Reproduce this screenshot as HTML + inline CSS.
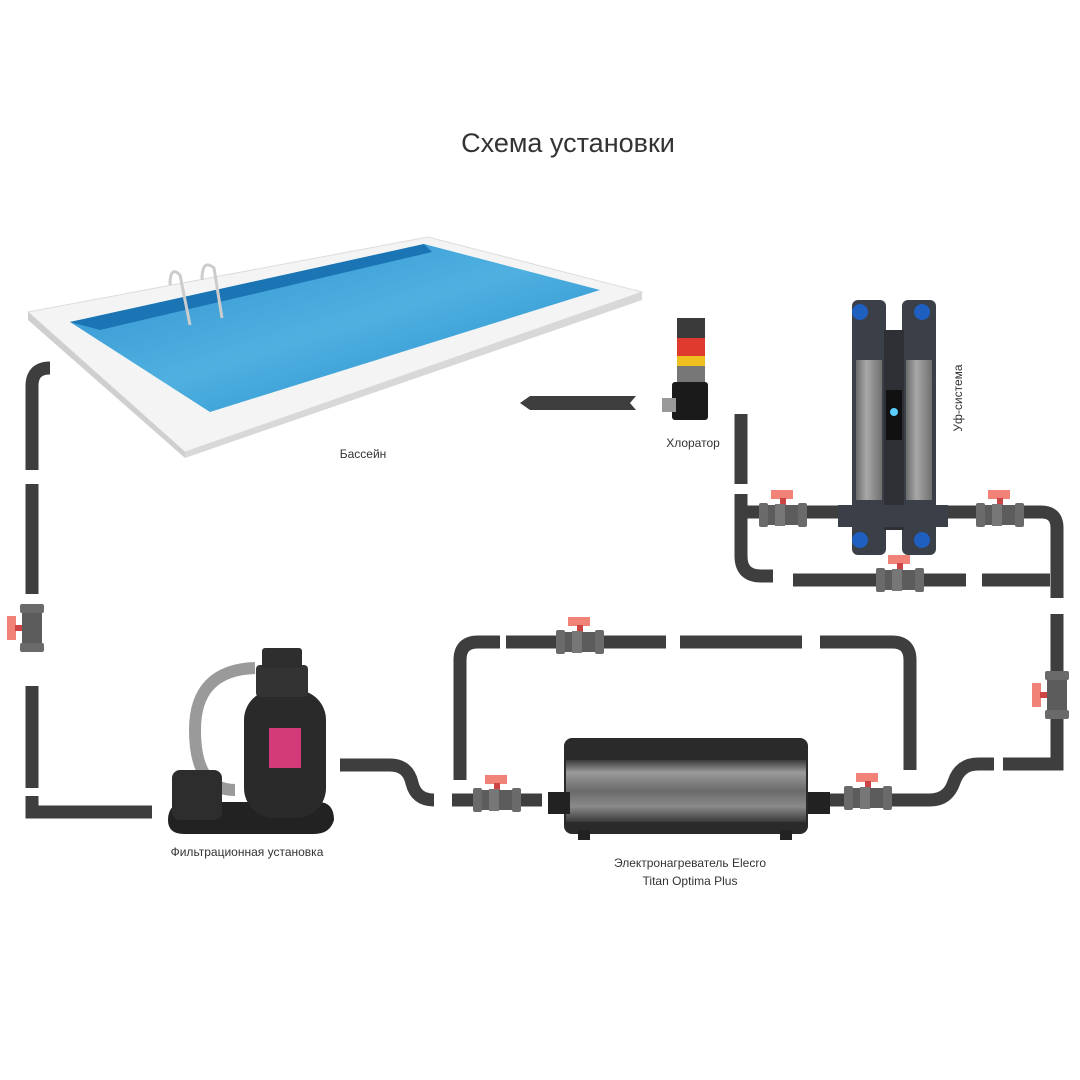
<!DOCTYPE html>
<html><head><meta charset="utf-8"><style>
html,body{margin:0;padding:0;background:#fff}
svg{display:block}
text{font-family:"Liberation Sans",sans-serif;fill:#333}
</style></head><body>
<svg width="1080" height="1080" viewBox="0 0 1080 1080" xmlns="http://www.w3.org/2000/svg">
<defs>
<linearGradient id="water" x1="0" y1="0" x2="1" y2="1">
<stop offset="0" stop-color="#2f8fcf"/><stop offset="0.5" stop-color="#4fb0e0"/><stop offset="1" stop-color="#1f88c8"/>
</linearGradient>
<linearGradient id="tube" x1="0" y1="0" x2="1" y2="0">
<stop offset="0" stop-color="#6a6a6a"/><stop offset="0.4" stop-color="#a8a8a8"/><stop offset="1" stop-color="#707070"/>
</linearGradient>
<linearGradient id="heat" x1="0" y1="0" x2="0" y2="1">
<stop offset="0" stop-color="#3a3a3a"/><stop offset="0.2" stop-color="#9a9a9a"/><stop offset="0.5" stop-color="#6a6a6a"/><stop offset="0.75" stop-color="#8a8a8a"/><stop offset="1" stop-color="#3a3a3a"/>
</linearGradient>
<g id="vh">
<rect x="-12" y="-25" width="22" height="9" fill="#f08278"/>
<rect x="-3" y="-17" width="6" height="7" fill="#c44"/>
<rect x="-22" y="-10" width="44" height="20" fill="#5c5c5c"/>
<rect x="-24" y="-12" width="9" height="24" rx="2" fill="#6a6a6a"/>
<rect x="15" y="-12" width="9" height="24" rx="2" fill="#6a6a6a"/>
<rect x="-8" y="-11" width="10" height="22" fill="#777"/>
</g>
<g id="vv">
<rect x="-25" y="-12" width="9" height="24" fill="#f08278"/>
<rect x="-17" y="-3" width="7" height="6" fill="#c44"/>
<rect x="-10" y="-22" width="20" height="44" fill="#5c5c5c"/>
<rect x="-12" y="-24" width="24" height="9" rx="2" fill="#6a6a6a"/>
<rect x="-12" y="15" width="24" height="9" rx="2" fill="#6a6a6a"/>
</g>
</defs>

<text x="568" y="152" font-size="27" text-anchor="middle" fill="#222">Схема установки</text>

<!-- pool -->
<polygon points="28,312 428,237 642,292 185,452" fill="#f4f4f4" stroke="#ddd"/>
<polygon points="28,312 185,452 185,458 28,320" fill="#cfcfcf"/>
<polygon points="185,452 642,292 642,300 185,458" fill="#d8d8d8"/>
<polygon points="70,322 424,244 600,290 210,412" fill="url(#water)"/>
<polygon points="70,322 424,244 432,252 100,330" fill="#1b75b5"/>
<path d="M170,285 q0,-20 10,-10 l10,50 M202,280 q0,-22 12,-12 l8,50" stroke="#ccc" stroke-width="3" fill="none"/>
<text x="363" y="458" font-size="12" text-anchor="middle">Бассейн</text>

<!-- pipes -->
<g stroke="#3e3e3e" stroke-width="13" fill="none">
<path d="M50,368 q-18,0 -18,18 v84"/>
<path d="M32,484 v110"/>
<path d="M32,686 v102"/>
<path d="M32,796 v16 h120"/>
<path d="M340,765 h50 q18,0 22,18 q4,17 22,17"/>
<path d="M452,800 h90"/>
<path d="M460,780 v-120 q0,-18 18,-18 h22"/>
<path d="M506,642 h160"/>
<path d="M680,642 h122"/>
<path d="M820,642 h72 q18,0 18,18 v110"/>
<path d="M830,800 h100 q18,0 24,-18 q6,-18 24,-18 h16"/>
<path d="M1003,764 h54 v-150"/>
<path d="M1057,598 v-70 q0,-16 -16,-16 h-300"/>
<path d="M741,494 v62 q0,20 20,20 h12"/>
<path d="M793,580 h173"/>
<path d="M982,580 h68"/>
<path d="M741,484 v-70"/>
</g>
<polygon points="520,403 530,396 636,396 630,403 636,410 530,410" fill="#3e3e3e"/>

<!-- valves -->
<use href="#vv" x="32" y="628"/>
<use href="#vh" x="580" y="642"/>
<use href="#vh" x="497" y="800"/>
<use href="#vh" x="868" y="798"/>
<use href="#vv" x="1057" y="695"/>
<use href="#vh" x="783" y="515"/>
<use href="#vh" x="1000" y="515"/>
<use href="#vh" x="900" y="580"/>

<!-- filter -->
<path d="M235,790 q-40,0 -40,-60 q0,-60 60,-62" stroke="#9a9a9a" stroke-width="12" fill="none"/>
<path d="M168,820 q0,-18 20,-18 h130 q16,0 16,18 q-4,14 -20,14 h-130 q-16,0 -16,-14z" fill="#222"/>
<rect x="172" y="770" width="50" height="50" rx="8" fill="#2d2d2d"/>
<rect x="244" y="690" width="82" height="128" rx="30" fill="#2a2a2a"/>
<rect x="269" y="728" width="32" height="40" fill="#d23a77"/>
<rect x="256" y="665" width="52" height="32" rx="4" fill="#333"/>
<rect x="262" y="648" width="40" height="20" rx="3" fill="#2e2e2e"/>
<text x="247" y="856" font-size="12" text-anchor="middle">Фильтрационная установка</text>

<!-- heater -->
<rect x="564" y="738" width="244" height="96" rx="8" fill="#2a2a2a"/>
<rect x="566" y="760" width="240" height="62" fill="url(#heat)"/>
<rect x="548" y="792" width="22" height="22" fill="#222"/>
<rect x="808" y="792" width="22" height="22" fill="#222"/>
<rect x="578" y="830" width="12" height="10" fill="#222"/>
<rect x="780" y="830" width="12" height="10" fill="#222"/>
<text x="690" y="867" font-size="12" text-anchor="middle">Электронагреватель Elecro</text>
<text x="690" y="885" font-size="12" text-anchor="middle">Titan Optima Plus</text>

<!-- chlorinator -->
<rect x="677" y="318" width="28" height="22" fill="#3a3a3a"/>
<rect x="677" y="338" width="28" height="18" fill="#e03a2e"/>
<rect x="677" y="356" width="28" height="10" fill="#f0c020"/>
<rect x="677" y="366" width="28" height="16" fill="#777"/>
<rect x="672" y="382" width="36" height="38" rx="3" fill="#1a1a1a"/>
<rect x="662" y="398" width="14" height="14" fill="#999"/>
<text x="693" y="447" font-size="12" text-anchor="middle">Хлоратор</text>

<!-- UV -->
<rect x="852" y="300" width="34" height="255" rx="6" fill="#3a3f48"/>
<rect x="902" y="300" width="34" height="255" rx="6" fill="#3a3f48"/>
<rect x="856" y="360" width="26" height="140" fill="url(#tube)"/>
<rect x="906" y="360" width="26" height="140" fill="url(#tube)"/>
<rect x="884" y="330" width="20" height="200" fill="#2e3036"/>
<rect x="886" y="390" width="16" height="50" fill="#111"/>
<circle cx="894" cy="412" r="4" fill="#5bd0ff"/>
<circle cx="860" cy="312" r="8" fill="#1e5fc0"/><circle cx="922" cy="312" r="8" fill="#1e5fc0"/>
<circle cx="860" cy="540" r="8" fill="#1e5fc0"/><circle cx="922" cy="540" r="8" fill="#1e5fc0"/>
<rect x="838" y="505" width="110" height="22" fill="#3a3f48"/>
<text transform="translate(962,398) rotate(-90)" font-size="12" text-anchor="middle">Уф-система</text>
</svg>
</body></html>
